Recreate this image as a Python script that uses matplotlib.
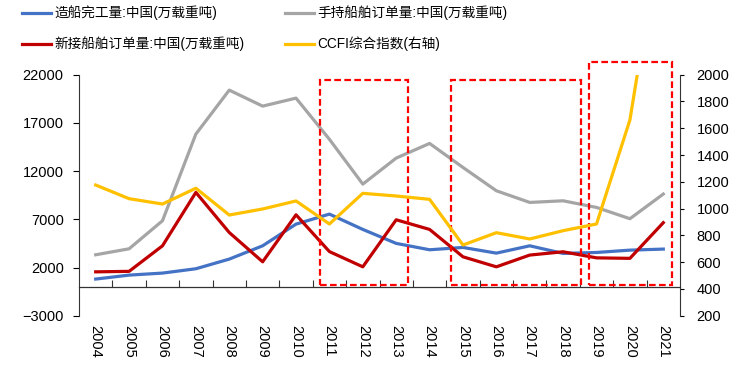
import matplotlib
matplotlib.use("Agg")
import matplotlib.pyplot as plt
from matplotlib.patches import Rectangle
from matplotlib.lines import Line2D
import numpy as np

plt.rcParams['font.family'] = ['Liberation Sans', 'Noto Sans CJK SC', 'DejaVu Sans']

years = [str(y) for y in range(2004, 2022)]
completed = [800, 1210, 1420, 1870, 2870, 4250, 6500, 7540, 5950, 4500, 3840, 4080, 3490, 4250, 3460, 3560, 3800, 3910]
orderbook = [3320, 3940, 6850, 15840, 20400, 18740, 19570, 15300, 10650, 13350, 14870, 12380, 9960, 8750, 8920, 8230, 7060, 9620]
new_orders = [1550, 1600, 4250, 9790, 5630, 2590, 7470, 3650, 2070, 6950, 5950, 3110, 2070, 3290, 3630, 3000, 2950, 6650]
ccfi = [1176, 1074, 1034, 1152, 952, 997, 1057, 885, 1114, 1094, 1069, 728, 820, 773, 835, 885, 1662, 3200]

labels = ['造船完工量:中国(万载重吨)', '新接船舶订单量:中国(万载重吨)',
          '手持船舶订单量:中国(万载重吨)', 'CCFI综合指数(右轴)']
colors = {'blue': '#4472C4', 'red': '#C00000', 'gray': '#A5A5A5', 'yellow': '#FFC000'}

# annotation boxes: (x0, x1, y0, y1) in category-index / left-axis units
boxes = [(6.72, 9.36, 200, 21450), (10.63, 14.52, 200, 21450), (14.77, 17.25, 200, 23350)]

fig = plt.figure(figsize=(7.47, 3.72), dpi=100)
ax = fig.add_axes([79 / 747, 1 - 315.7 / 372, (680 - 79) / 747, (315.7 - 74.7) / 372])
x = np.arange(len(years))
lw = 2.3
ax.plot(x, orderbook, color=colors['gray'], lw=lw, zorder=2)
ax.plot(x, completed, color=colors['blue'], lw=lw, zorder=3)
ax.plot(x, new_orders, color=colors['red'], lw=lw, zorder=4)

ax.set_xlim(-0.5, len(years) - 0.5)
ax.set_ylim(-3000, 22000)
ax.set_yticks(np.arange(-3000, 22001, 5000))
ax.set_xticks(x)
ax.set_xticklabels(years, rotation=-90, fontsize=10.5)
ax.tick_params(axis='x', length=0, pad=7)
ax.tick_params(axis='y', direction='out', length=4, width=0.8, labelsize=10.5, pad=7)
for s in ['top', 'right', 'bottom']:
    ax.spines[s].set_visible(False)
ax.spines['left'].set_color('#333333')

# zero line with category boundary ticks
sec = ax.secondary_xaxis(3000 / 25000)
sec.set_xticks(np.arange(0.5, len(years) - 1, 1.0))
sec.tick_params(axis='x', direction='in', length=5, width=0.8, labelbottom=False, labeltop=False, color='#333333')
sec.spines['bottom'].set_color('#333333')
sec.spines['bottom'].set_linewidth(0.9)

ax2 = ax.twinx()
ax2.plot(x, ccfi, color=colors['yellow'], lw=lw, zorder=5)
ax2.set_ylim(200, 2000)
ax2.set_yticks(np.arange(200, 2001, 200))
ax2.tick_params(axis='y', direction='out', length=3, width=0.8, labelsize=10.5, pad=9)
for s in ['top', 'left', 'bottom']:
    ax2.spines[s].set_visible(False)
ax2.spines['right'].set_color('#333333')
ax2.set_xlim(-0.5, len(years) - 0.5)

for (x0, x1, y0, y1) in boxes:
    r = Rectangle((x0, y0), x1 - x0, y1 - y0, fill=False, edgecolor='#FF0000',
                  lw=1.6, ls=(0, (3, 1.5)), clip_on=False, zorder=10)
    ax.add_patch(r)

handles = [Line2D([], [], color=colors['blue'], lw=lw),
           Line2D([], [], color=colors['red'], lw=lw),
           Line2D([], [], color=colors['gray'], lw=lw),
           Line2D([], [], color=colors['yellow'], lw=lw)]
fig.legend(handles, labels, ncol=2, loc='upper left', bbox_to_anchor=(22 / 747, 0.985),
           frameon=False, fontsize=9.8, handlelength=2.1, handletextpad=0.25,
           columnspacing=3.0, labelspacing=1.2, borderpad=0, borderaxespad=0)

fig.savefig('out.png', dpi=100)
